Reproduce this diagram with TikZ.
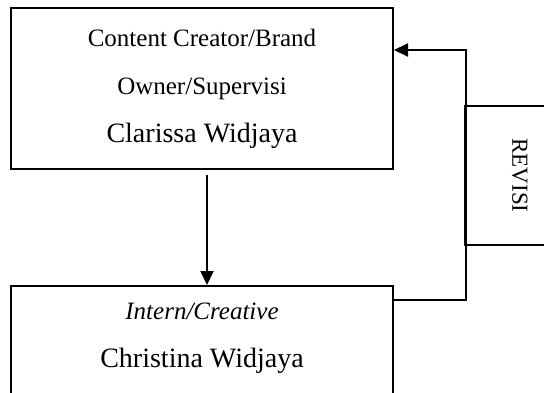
\documentclass[tikz,border=0pt]{standalone}
\usepackage{fontspec}
\setmainfont{Liberation Serif}
\usetikzlibrary{arrows.meta, positioning}

\begin{document}
\begin{tikzpicture}[
    x=1pt, y=1pt,
    >={Triangle[length=14pt, width=13pt]},
    % --- box styles ---
    rolebox/.style={
        draw=black, line width=2pt, fill=white,
        minimum width=382pt, minimum height=161pt,
        align=center, inner xsep=0pt, inner ysep=#1,
        font=\fontsize{25pt}{48pt}\selectfont
    },
    rolebox/.default=0pt,
    revbox/.style={
        draw=black, line width=1.6pt,
        minimum width=110pt, minimum height=139pt, inner sep=0pt,
        font=\fontsize{23pt}{27pt}\selectfont
    },
    % --- connector styles ---
    flow/.style={->, line width=2pt},
]
\useasboundingbox (0,0) rectangle (544,392);

% ---- Boxes ----
\node[rolebox, anchor=north west] (owner) at (10,385)
    {Content Creator/Brand\\Owner/Supervisi\\{\fontsize{28pt}{48pt}\selectfont Clarissa Widjaya}};

\node[rolebox=17pt, text depth=80pt, below=115pt of owner] (intern)
    {\textit{Intern/Creative}\\{\fontsize{28pt}{48pt}\selectfont Christina Widjaya}};

\node[revbox, anchor=west] (revisi) at (464,216.5) {};
\node[rotate=-90, font=\fontsize{23pt}{27pt}\selectfont] (revisilbl) at (revisi.center) {REVISI};

% ---- Arrows ----
\draw[flow] ([xshift=5pt, yshift=-5pt]owner.south) -- ([xshift=5pt]intern.north);
\draw[flow] ([yshift=-15pt]intern.north east) -- ++(72pt,0)
    |- ([yshift=-43pt]owner.north east);

\end{tikzpicture}
\end{document}
